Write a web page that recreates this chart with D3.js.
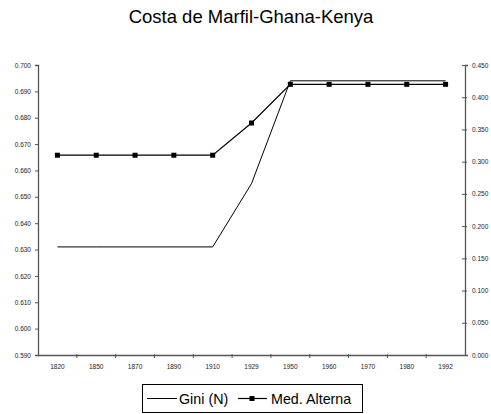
<!DOCTYPE html>
<html><head><meta charset="utf-8">
<script src="https://cdn.jsdelivr.net/npm/d3@7"></script>
<style>body{margin:0;background:#fff}svg{display:block}text{font-family:Arial,"Liberation Sans",sans-serif}</style>
</head><body><svg id="c" width="491" height="414"></svg>
<script>
const years = ["1820","1850","1870","1890","1910","1929","1950","1960","1970","1980","1992"];
const gini = [0.631,0.631,0.631,0.631,0.631,0.655,0.694,0.694,0.694,0.694,0.694];
const medAlterna = [0.310,0.310,0.310,0.310,0.310,0.360,0.420,0.420,0.420,0.420,0.420];
const leftTicks = [0.59,0.60,0.61,0.62,0.63,0.64,0.65,0.66,0.67,0.68,0.69,0.70];
const rightTicks = [0,0.05,0.10,0.15,0.20,0.25,0.30,0.35,0.40,0.45];

const svg = d3.select("#c");
const L=38, R=465, T=65, B=355;
const x = d3.scaleBand().domain(years).range([L,R]);
const yL = d3.scaleLinear().domain([0.59,0.70]).range([B,T]);
const yR = d3.scaleLinear().domain([0,0.45]).range([B,T]);
const cx = d => x(d)+x.bandwidth()/2;

svg.append("text").attr("x",251).attr("y",22.5).attr("text-anchor","middle")
  .attr("font-size",18.5).text("Costa de Marfil-Ghana-Kenya");

const axisCol="#555";
function styleAxis(g){ g.select(".domain").attr("stroke",axisCol).attr("stroke-width",1.3);
  g.selectAll(".tick line").attr("stroke",axisCol);
  g.selectAll(".tick text").attr("font-size",6.5).attr("fill","#222").attr("font-family","Arial, 'Liberation Sans', sans-serif"); }

const gl = svg.append("g").attr("transform",`translate(${L},0)`)
  .call(d3.axisLeft(yL).tickValues(leftTicks).tickFormat(d3.format(".3f")).tickSizeOuter(0).tickSize(3).tickPadding(4));
styleAxis(gl);
gl.selectAll(".tick line").attr("x2",-3).attr("x1",1);

const gr = svg.append("g").attr("transform",`translate(${R},0)`)
  .call(d3.axisRight(yR).tickValues(rightTicks).tickFormat(d3.format(".3f")).tickSizeOuter(0).tickSize(3).tickPadding(4));
styleAxis(gr);
gr.selectAll(".tick line").attr("x1",-3).attr("x2",2);

const gx = svg.append("g").attr("transform",`translate(0,${B})`)
  .call(d3.axisBottom(x).tickSize(0).tickSizeOuter(0).tickPadding(9));
styleAxis(gx);
gx.selectAll(".tick text").attr("font-size",6.5);
gx.selectAll(".bt").data(years.slice(1)).enter().append("line")
  .attr("x1",d=>x(d)).attr("x2",d=>x(d)).attr("y1",-1).attr("y2",3).attr("stroke",axisCol);

const lineG = d3.line().x((d,i)=>cx(years[i])).y(d=>yL(d));
const lineM = d3.line().x((d,i)=>cx(years[i])).y(d=>yR(d));
svg.append("path").attr("d",lineG(gini)).attr("fill","none").attr("stroke","#000").attr("stroke-width",1);
svg.append("path").attr("d",lineM(medAlterna)).attr("fill","none").attr("stroke","#000").attr("stroke-width",1.2);
svg.selectAll(".mk").data(medAlterna).enter().append("rect")
  .attr("x",(d,i)=>cx(years[i])-2.5).attr("y",d=>yR(d)-2.5).attr("width",5).attr("height",5).attr("fill","#000");

const lg = svg.append("g");
lg.append("rect").attr("x",142.5).attr("y",384.5).attr("width",220).attr("height",28).attr("fill","#fff").attr("stroke","#000").attr("stroke-width",1);
lg.append("line").attr("x1",147).attr("x2",177).attr("y1",398.5).attr("y2",398.5).attr("stroke","#000");
lg.append("text").attr("x",179).attr("y",403.5).attr("font-size",14.3).text("Gini (N)");
lg.append("line").attr("x1",238).attr("x2",267).attr("y1",398.5).attr("y2",398.5).attr("stroke","#000").attr("stroke-width",1.2);
lg.append("rect").attr("x",249.5).attr("y",396).attr("width",5).attr("height",5).attr("fill","#000");
lg.append("text").attr("x",271).attr("y",403.5).attr("font-size",14.3).text("Med. Alterna");
</script></body></html>
